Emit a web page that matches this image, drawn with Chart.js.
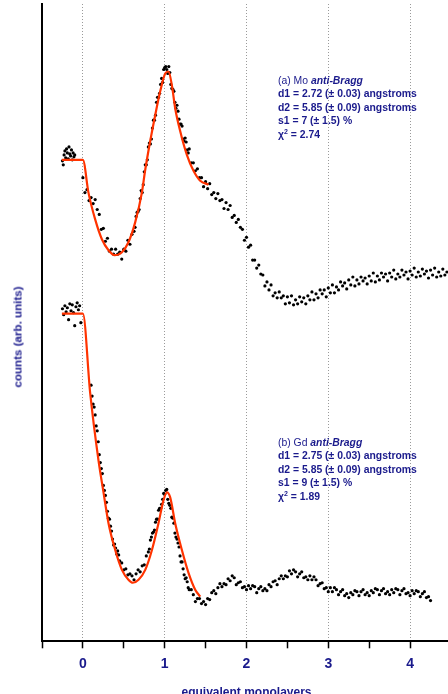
<!DOCTYPE html>
<html>
<head>
<meta charset="utf-8">
<script src="https://cdn.jsdelivr.net/npm/chart.js@4.4.1/dist/chart.umd.min.js"></script>
<style>
    html, body { margin: 0; padding: 0; background: #fff; overflow: hidden; }
    #wrap { position: relative; width: 448px; height: 694px; overflow: hidden; }
    #chart { position: absolute; left: 0; top: 0; }
    .note {
        position: absolute; left: 278px; color: #1a1a8c; white-space: nowrap;
        font: bold 10.4px "Liberation Sans", Arial, sans-serif; line-height: 13.4px;
    }
    .note .lbl { font-weight: normal; }
    .note sup { font-size: 7px; vertical-align: 4px; line-height: 0; }
    #ytitle {
        position: absolute; left: 17px; top: 337px; color: #1a1a8c; white-space: nowrap;
        font: bold 11.6px "Liberation Sans", Arial, sans-serif;
        transform: translate(-50%, -50%) rotate(-90deg);
    }
</style>
</head>
<body>
<div id="wrap">
    <canvas id="chart" width="458" height="703"></canvas>
    <div class="note" style="top:74px">
        <span class="lbl">(a) Mo</span> <i>anti-Bragg</i><br>
        d1 = 2.72 (± 0.03) angstroms<br>
        d2 = 5.85 (± 0.09) angstroms<br>
        s1 = 7 (± 1.5) %<br>
        χ<sup>2</sup> = 2.74
    </div>
    <div class="note" style="top:436px">
        <span class="lbl">(b) Gd</span> <i>anti-Bragg</i><br>
        d1 = 2.75 (± 0.03) angstroms<br>
        d2 = 5.85 (± 0.09) angstroms<br>
        s1 = 9 (± 1.5) %<br>
        χ<sup>2</sup> = 1.89
    </div>
    <div id="ytitle">counts (arb. units)</div>
</div>
<script>
// (a) Mo anti-Bragg : measured points
const moX = [-0.25,-0.24,-0.23,-0.22,-0.21,-0.2,-0.19,-0.18,-0.17,-0.16,-0.15,-0.14,-0.13,-0.12,-0.11,-0.1,
    0,0.025,0.05,0.075,0.1,0.125,0.15,0.175,0.2,0.225,0.25,0.275,0.3,0.325,0.35,0.375,0.4,0.425,0.45,0.475,
    0.5,0.525,0.55,0.575,0.6,0.625,0.65,0.675,0.7,0.725,0.75,0.775,0.8,0.825,0.85,0.875,0.9,0.925,0.95,0.975,
    1,1.025,1.05,1.075,1.1,1.125,1.15,1.175,1.2,1.225,1.25,1.275,1.3,1.325,1.35,1.375,1.4,1.425,1.45,1.475,
    1.5,1.525,1.55,1.575,1.6,1.625,1.65,1.675,1.7,1.725,1.75,1.775,1.8,1.825,1.85,1.875,1.9,1.925,1.95,1.975,
    2,2.025,2.05,2.075,2.1,2.125,2.15,2.175,2.2,2.225,2.25,2.275,2.3,2.325,2.35,2.375,2.4,2.425,2.45,2.475,
    2.5,2.525,2.55,2.575,2.6,2.625,2.65,2.675,2.7,2.725,2.75,2.775,2.8,2.825,2.85,2.875,2.9,2.925,2.95,2.975,
    3,3.025,3.05,3.075,3.1,3.125,3.15,3.175,3.2,3.225,3.25,3.275,3.3,3.325,3.35,3.375,3.4,3.425,3.45,3.475,
    3.5,3.525,3.55,3.575,3.6,3.625,3.65,3.675,3.7,3.725,3.75,3.775,3.8,3.825,3.85,3.875,3.9,3.925,3.95,3.975,
    4,4.025,4.05,4.075,4.1,4.125,4.15,4.175,4.2,4.225,4.25,4.275,4.3,4.325,4.35,4.375,4.4,4.425,4.45];
const moY = [48.4,48.0,49.0,49.4,48.7,49.6,49.2,48.6,49.8,49.1,48.9,49.5,48.5,49.2,48.8,49.0,
    46.7,45.2,45.5,44.4,44.7,44.1,44.5,43.5,43.0,41.5,
    41.6,40.3,40.6,39.3,39.5,39.0,39.5,39.0,39.2,38.5,
    39.5,39.3,40.4,40.0,41.0,41.3,42.8,43.3,44.6,45.2,
    47.3,48.0,49.8,50.1,51.7,52.5,54.3,54.8,56.1,56.3,
    57.8,57.6,57.9,56.1,55.6,54.3,54.0,52.6,52.1,50.6,
    50.7,49.5,49.6,48.2,48.2,47.4,47.6,46.7,46.7,45.8,
    46.3,45.6,46.1,45.0,45.2,44.6,45.1,44.4,44.5,43.6,
    44.2,43.5,43.9,42.7,42.9,42.2,42.5,41.7,41.5,40.4,
    40.7,39.7,39.9,38.4,38.4,37.6,37.9,37.0,36.9,35.8,
    36.2,35.4,35.9,34.8,35.1,34.6,35.2,34.6,34.8,34.0,
    34.7,34.1,34.8,33.9,34.4,34.0,34.7,34.2,34.6,34.0,
    34.8,34.4,35.2,34.4,35.0,34.6,35.4,35.0,35.4,34.7,
    35.6,35.1,35.9,35.1,35.7,35.4,36.2,35.8,36.1,35.5,
    36.4,35.9,36.7,35.8,36.4,36.0,36.7,36.3,36.6,36.0,
    36.8,36.3,37.1,36.2,36.8,36.4,37.1,36.7,37.0,36.3,
    37.1,36.7,37.4,36.5,37.0,36.7,37.4,36.9,37.2,36.5,
    37.3,36.9,37.6,36.7,37.2,36.8,37.5,37.0,37.3,36.6,
    37.4,36.9,37.6,36.7,37.2,36.8,37.5,36.9,37.2];
// (a) extra points on the steep flanks of the main peak
const moSteepX = [0.6375,0.6625,0.6875,0.7125,0.7375,0.7625,0.7875,0.8125,0.8375,0.8625,0.8875,0.9125,0.9375,0.9625,0.9875,
    1.0125,1.0375,1.0625,1.0875,1.1125,1.1375,1.1625,1.1875,1.2125,1.2375,1.2625,1.2875];
const moSteepY = [41.7,43.2,43.5,45.4,46.0,48.0,48.5,50.2,50.6,52.5,53.0,54.8,55.2,56.7,57.6,
    57.9,57.2,57.3,55.7,55.4,53.7,53.4,52.1,51.9,50.4,50.3,49.2];

// (a) fit curve
const moFitX = [-0.257,0,0.068,0.15,0.232,0.313,0.386,0.477,0.557,0.639,0.721,0.762,0.823,0.884,0.945,1.006,1.046,1.088,1.128,1.189,1.271,1.352,1.434,1.535];
const moFitY = [48.5,48.5,45.2,42.5,40.5,39.4,38.9,39.2,40.2,42.2,45.2,47.5,50.4,53.0,55.4,57.2,57.4,56.0,53.7,51.4,49.0,47.4,46.4,46.0];

// (b) Gd anti-Bragg : measured points
const gdX = [-0.25,-0.235,-0.22,-0.205,-0.19,-0.175,-0.16,-0.145,-0.13,-0.115,-0.1,-0.085,-0.07,-0.055,-0.04,-0.025,
    0.1,0.125,0.15,0.175,0.2,0.225,0.25,0.275,0.3,0.325,0.35,0.375,0.4,0.425,0.45,0.475,
    0.5,0.525,0.55,0.575,0.6,0.625,0.65,0.675,0.7,0.725,0.75,0.775,0.8,0.825,0.85,0.875,0.9,0.925,0.95,0.975,
    1,1.025,1.05,1.075,1.1,1.125,1.15,1.175,1.2,1.225,1.25,1.275,1.3,1.325,1.35,1.375,1.4,1.425,1.45,1.475,
    1.5,1.525,1.55,1.575,1.6,1.625,1.65,1.675,1.7,1.725,1.75,1.775,1.8,1.825,1.85,1.875,1.9,1.925,1.95,1.975,
    2,2.025,2.05,2.075,2.1,2.125,2.15,2.175,2.2,2.225,2.25,2.275,2.3,2.325,2.35,2.375,2.4,2.425,2.45,2.475,
    2.5,2.525,2.55,2.575,2.6,2.625,2.65,2.675,2.7,2.725,2.75,2.775,2.8,2.825,2.85,2.875,2.9,2.925,2.95,2.975,
    3,3.025,3.05,3.075,3.1,3.125,3.15,3.175,3.2,3.225,3.25,3.275,3.3,3.325,3.35,3.375,3.4,3.425,3.45,3.475,
    3.5,3.525,3.55,3.575,3.6,3.625,3.65,3.675,3.7,3.725,3.75,3.775,3.8,3.825,3.85,3.875,3.9,3.925,3.95,3.975,
    4,4.025,4.05,4.075,4.1,4.125,4.15,4.175,4.2,4.225,4.25];
const gdY = [33.5,32.9,33.8,33.2,33.6,32.4,34.0,33.3,33.9,33.1,31.8,33.7,34.1,33.4,33.8,32.1,
    25.8,23.9,22.8,21.2,18.8,17.4,15.7,14.7,13.1,12.3,
    11.1,9.7,9.4,9.1,8.1,7.9,7.2,7.3,6.7,6.8,
    6.6,6.2,6.8,7.2,7.0,7.6,7.7,8.6,9.0,10.2,
    10.9,11.2,12.3,13.2,13.4,14.3,14.8,15.3,13.9,13.4,
    12.4,10.9,10.3,9.5,8.0,7.3,6.3,6.0,5.2,5.2,
    4.7,4.0,4.3,4.3,3.8,4.0,3.7,4.3,4.2,4.9,
    5.1,4.8,5.4,5.8,5.5,5.8,5.7,6.3,6.1,6.6,
    6.4,5.7,5.9,6.0,5.4,5.5,5.2,5.6,5.3,5.6,
    5.5,4.9,5.3,5.5,5.1,5.3,5.1,5.7,5.5,6.0,
    6.1,5.7,6.3,6.6,6.3,6.6,6.5,7.1,6.8,7.2,
    7.0,6.5,6.8,7.0,6.4,6.5,6.2,6.6,6.2,6.5,
    6.2,5.6,5.8,5.9,5.3,5.4,5.0,5.4,5.0,5.4,
    5.2,4.7,5.0,5.2,4.6,4.8,4.4,4.9,4.7,5.1,
    5.0,4.6,5.0,5.2,4.7,4.9,4.6,5.1,4.9,5.3,
    5.2,4.7,5.1,5.3,4.8,5.0,4.7,5.2,4.9,5.3,
    5.2,4.7,5.1,5.3,4.8,4.9,4.6,5.1,4.8,5.1,
    5.0,4.5,4.8,5.0,4.4,4.5,4.1];
// (b) extra points on the steep parts
const gdSteepX = [0.1125,0.1375,0.1625,0.1875,0.2125,0.2375,0.2625,0.2875,0.3125,0.3375,0.3625,0.3875,0.4125,0.4375,
    0.8125,0.8375,0.8625,0.8875,0.9125,0.9375,0.9625,0.9875,1.0125,1.0375,1.0625,1.0875,
    1.1125,1.1375,1.1625,1.1875,1.2125,1.2375,1.2625,1.2875];
const gdSteepY = [24.7,23.6,21.7,20.1,18.0,16.9,15.2,14.0,12.4,11.6,10.3,9.8,8.8,8.7,
    9.3,10.5,11.0,12.0,12.3,13.4,13.8,14.9,15.2,14.3,13.7,12.5,
    11.9,10.5,9.9,8.6,8.0,6.7,6.4,5.4];

// (b) fit curve
const gdFitX = [-0.257,0,0.089,0.191,0.252,0.313,0.395,0.477,0.557,0.611,0.68,0.762,0.844,0.924,0.985,1.027,1.067,1.128,1.21,1.291,1.373,1.434];
const gdFitY = [33.0,33.0,25.0,18.2,15.0,11.9,9.2,7.2,6.2,5.9,6.2,7.2,9.2,11.9,14.2,15.0,14.5,11.9,9.2,6.9,5.2,4.5];

// x axis: major ticks every monolayer, minor every half
const xMin = -0.5, xMax = 4.5, xStep = 0.5;
const yMin = 0, yMax = 64.2;

const NAVY = '#1a1a8c';
const FIT_RED = '#ff3300';

function toPoints(xs, ys) {
    return xs.map((x, i) => ({ x: x, y: ys[i] }));
}

function isWhole(v) {
    return Math.abs(v - Math.round(v)) < 1e-6;
}

function initChart() {
    const canvas = document.getElementById('chart');
    const ctx = canvas.getContext('2d');

    const dots = { pointRadius: 1.6, pointBackgroundColor: '#000', pointBorderWidth: 0, showLine: false, order: 2 };
    const fit = { borderColor: FIT_RED, borderWidth: 2.2, pointRadius: 0, showLine: true, cubicInterpolationMode: 'monotone', order: 1 };

    new Chart(ctx, {
        type: 'scatter',
        data: {
            datasets: [
                Object.assign({ data: toPoints(moX, moY) }, dots),
                Object.assign({ data: toPoints(moSteepX, moSteepY) }, dots),
                Object.assign({ data: toPoints(gdX, gdY) }, dots),
                Object.assign({ data: toPoints(gdSteepX, gdSteepY) }, dots),
                Object.assign({ data: toPoints(moFitX, moFitY) }, fit),
                Object.assign({ data: toPoints(gdFitX, gdFitY) }, fit)
            ]
        },
        options: {
            responsive: false,
            animation: false,
            layout: { padding: { left: 42, right: 0, top: 0, bottom: 0 } },
            plugins: {
                legend: { display: false },
                tooltip: { enabled: false }
            },
            scales: {
                x: {
                    type: 'linear',
                    min: xMin,
                    max: xMax,
                    ticks: {
                        stepSize: xStep,
                        autoSkip: false,
                        maxRotation: 0,
                        padding: 7,
                        color: NAVY,
                        font: { family: '"Liberation Sans", Arial, sans-serif', size: 14, weight: 'bold' },
                        callback: v => isWhole(v) ? String(Math.round(v)) : ''
                    },
                    grid: {
                        color: c => (c.tick && isWhole(c.tick.value)) ? '#9a9a9a' : 'rgba(0,0,0,0)',
                        lineWidth: 1,
                        tickLength: 7,
                        tickColor: '#000',
                        tickWidth: 1.5
                    },
                    border: { display: true, color: '#000', width: 2, dash: [1, 2] },
                    title: {
                        display: true,
                        text: 'equivalent monolayers',
                        color: NAVY,
                        font: { family: '"Liberation Sans", Arial, sans-serif', size: 12, weight: 'bold' },
                        padding: { top: 6.5, bottom: 3 }
                    }
                },
                y: {
                    min: yMin,
                    max: yMax,
                    ticks: { display: false },
                    grid: { display: false, drawTicks: false },
                    border: { display: true, color: '#000', width: 2 }
                }
            }
        }
    });
}

document.addEventListener('DOMContentLoaded', initChart);
</script>
</body>
</html>
